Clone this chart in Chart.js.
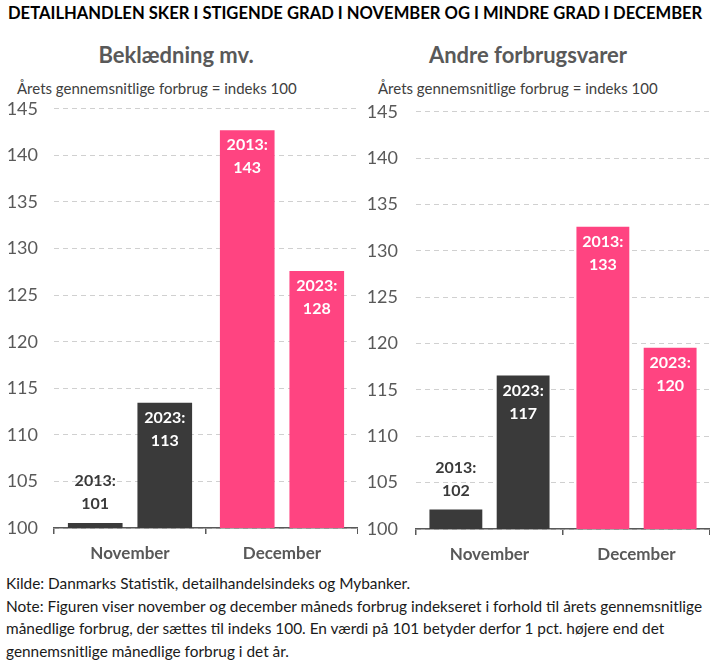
<!DOCTYPE html>
<html>
<head>
<meta charset="utf-8">
<script src="https://cdn.jsdelivr.net/npm/chart.js@4.4.1/dist/chart.umd.min.js"></script>
<style>
  body { margin: 0; width: 720px; height: 663px; background: #fff; font-family: Lato, sans-serif; position: relative; overflow: hidden; }
  .t { position: absolute; white-space: nowrap; }
  .boks { position: absolute; }
</style>
</head>
<body>
<div class="t" style="left:8px;top:3px;font-size:16.6px;font-weight:bold;color:#000;line-height:20px">DETAILHANDLEN SKER I STIGENDE GRAD I NOVEMBER OG I MINDRE GRAD I DECEMBER</div>

<div class="t" style="left:0;width:352px;text-align:center;top:42px;font-size:22px;font-weight:bold;color:#595959;line-height:26px">Beklædning mv.</div>
<div class="t" style="left:17px;top:79px;font-size:15px;color:#404040;line-height:18px">Årets gennemsnitlige forbrug = indeks 100</div>

<div class="t" style="left:352px;width:352px;text-align:center;top:42px;font-size:22px;font-weight:bold;color:#595959;line-height:26px">Andre forbrugsvarer</div>
<div class="t" style="left:378px;top:79px;font-size:15px;color:#404040;line-height:18px">Årets gennemsnitlige forbrug = indeks 100</div>

<div class="boks" style="left:0;top:82px;width:358px;height:486px"><canvas id="venstre"></canvas></div>
<div class="boks" style="left:362px;top:83px;width:348px;height:486px"><canvas id="hoejre"></canvas></div>

<div class="t" style="left:6px;top:572px;font-size:15.4px;color:#1a1a1a;line-height:22.5px">
Kilde: Danmarks Statistik, detailhandelsindeks og Mybanker.<br>
Note: Figuren viser november og december måneds forbrug indekseret i forhold til årets gennemsnitlige<br>
månedlige forbrug, der sættes til indeks 100. En værdi på 101 betyder derfor 1 pct. højere end det<br>
gennemsnitlige månedlige forbrug i det år.
</div>

<script>
const maaneder = ["November", "December"];
const aar = ["2013", "2023"];

// Beklædning mv.
const beklaedning2013 = [100.55, 142.7];
const beklaedning2023 = [113.45, 127.6];

// Andre forbrugsvarer
const andre2013 = [102.1, 132.6];
const andre2023 = [116.55, 119.55];

const yMin = 100, yMax = 145, yStep = 5;

const farver = ["#3a3a3a", "#ff4481"];
const moerk = "#3a3a3a";
const graa = "#595959";

// tekst på søjlerne: "2013:" og værdien
const etiketter = {
  id: "etiketter",
  afterDatasetsDraw(chart) {
    const ctx = chart.ctx;
    ctx.save();
    ctx.font = "bold 16px Lato";
    ctx.textAlign = "center";
    ctx.textBaseline = "middle";
    chart.data.datasets.forEach((ds, i) => {
      chart.getDatasetMeta(i).data.forEach((bar, j) => {
        const v = ds.data[j];
        const inde = v - yMin > 5;
        ctx.fillStyle = inde ? "#fff" : moerk;
        const y1 = inde ? bar.y + 15 : bar.y - 42;
        ctx.fillText(ds.label + ":", bar.x, y1);
        ctx.fillText(Math.round(v), bar.x, y1 + 23);
      });
    });
    ctx.restore();
  }
};

function lavFigur(id, v2013, v2023, tickPad) {
  new Chart(document.getElementById(id), {
    type: "bar",
    data: {
      labels: maaneder,
      datasets: [
        { label: aar[0], data: v2013, backgroundColor: farver },
        { label: aar[1], data: v2023, backgroundColor: farver }
      ]
    },
    options: {
      responsive: true,
      maintainAspectRatio: false,
      animation: false,
      categoryPercentage: 0.915,
      barPercentage: 0.786,
      layout: { padding: 0 },
      plugins: { legend: { display: false }, tooltip: { enabled: false } },
      scales: {
        x: {
          grid: { drawOnChartArea: false, drawTicks: true, tickLength: 6, color: graa, lineWidth: 1.5 },
          border: { display: true, color: graa, width: 1.5 },
          ticks: { color: graa, font: { family: "Lato", size: 17, weight: "bold" }, padding: 9 },
          afterFit(s) { s.height = 40; }
        },
        y: {
          min: yMin,
          max: yMax,
          ticks: { stepSize: yStep, color: graa, font: { family: "Lato", size: 18 }, padding: tickPad },
          grid: { color: "#d0d0d0", drawTicks: false, lineWidth: 1 },
          border: { display: false, dash: [5, 4] },
          afterFit(s) { s.width = 54; }
        }
      }
    },
    plugins: [etiketter]
  });
}

lavFigur("venstre", beklaedning2013, beklaedning2023, 16);
lavFigur("hoejre", andre2013, andre2023, 18);
</script>
</body>
</html>
